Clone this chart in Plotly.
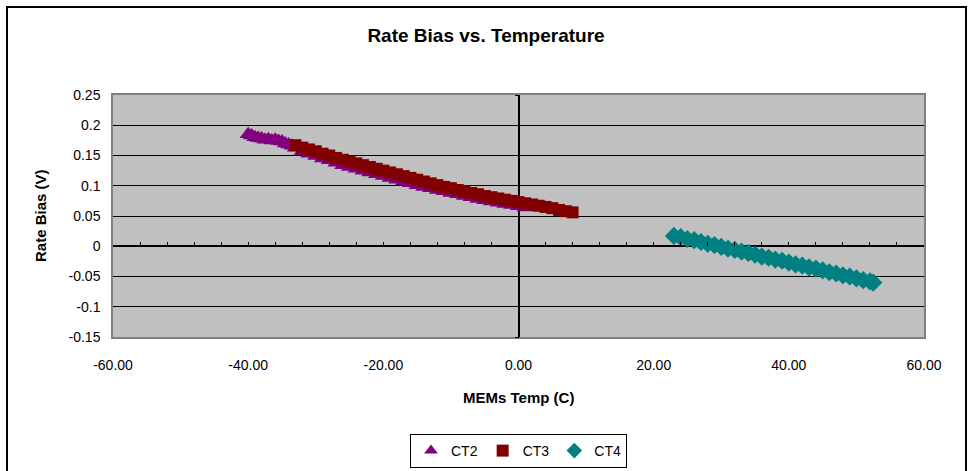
import plotly.graph_objects as go

# ---- data ----
ct2_temp = [-40, -39.5, -39, -38.5, -38, -37.5, -37, -36.5, -36, -35.5, -35, -34.5, -34, -33.5, -33, -32, -31,
            -30, -29, -28, -27, -26, -25, -24, -23, -22, -21, -20, -19, -18, -17, -16, -15, -14, -13, -12,
            -11, -10, -9, -8, -7, -6, -5, -4, -3, -2, -1, 0, 1]
ct2_bias = [0.185, 0.183, 0.180, 0.179, 0.178, 0.176, 0.177, 0.175, 0.176, 0.174, 0.173, 0.170, 0.168, 0.166,
            0.163, 0.157, 0.153, 0.149, 0.145, 0.142, 0.138, 0.134, 0.131, 0.128, 0.125, 0.122, 0.119,
            0.116, 0.113, 0.110, 0.107, 0.104, 0.101, 0.098, 0.096, 0.093, 0.091, 0.088, 0.086, 0.083,
            0.081, 0.078, 0.076, 0.074, 0.072, 0.070, 0.068, 0.066, 0.064]

ct3_temp = [-33, -32, -31, -30, -29, -28, -27, -26, -25, -24, -23, -22, -21, -20, -19, -18, -17, -16, -15,
            -14, -13, -12, -11, -10, -9, -8, -7, -6, -5, -4, -3, -2, -1, 0, 1, 2, 3, 4, 5, 6, 7, 8]
ct3_bias = [0.167, 0.163, 0.160, 0.157, 0.153, 0.150, 0.146, 0.143, 0.140, 0.137, 0.134, 0.131, 0.128,
            0.125, 0.122, 0.119, 0.116, 0.113, 0.110, 0.107, 0.104, 0.101, 0.098, 0.096, 0.093, 0.091,
            0.088, 0.086, 0.083, 0.081, 0.079, 0.077, 0.075, 0.073, 0.071, 0.069, 0.067, 0.065, 0.063,
            0.060, 0.058, 0.056]

ct4_temp = [23, 24, 25, 26, 27, 28, 29, 30, 31, 32, 33, 34, 35, 36, 37, 38, 39, 40, 41, 42, 43, 44, 45,
            46, 47, 48, 49, 50, 51, 52, 52.5]
ct4_bias = [0.017, 0.015, 0.012, 0.010, 0.007, 0.004, 0.002, -0.001, -0.004, -0.006, -0.009, -0.011,
            -0.014, -0.017, -0.019, -0.022, -0.024, -0.027, -0.030, -0.032, -0.035, -0.037, -0.040,
            -0.043, -0.045, -0.048, -0.050, -0.053, -0.056, -0.058, -0.060]

x_tickvals = [-60, -40, -20, 0, 20, 40, 60]
x_ticktext = ["-60.00", "-40.00", "-20.00", "0.00", "20.00", "40.00", "60.00"]
y_tickvals = [-0.15, -0.1, -0.05, 0, 0.05, 0.1, 0.15, 0.2, 0.25]
y_ticktext = ["-0.15", "-0.1", "-0.05", "0", "0.05", "0.1", "0.15", "0.2", "0.25"]

FONT = "Liberation Sans, Arial, sans-serif"

fig = go.Figure()
fig.add_trace(go.Scatter(x=ct2_temp, y=ct2_bias, mode="markers", name="CT2",
                         marker=dict(symbol="triangle-up", size=15, color="#800080")))
fig.add_trace(go.Scatter(x=ct3_temp, y=ct3_bias, mode="markers", name="CT3",
                         marker=dict(symbol="square", size=12, color="#800000")))
fig.add_trace(go.Scatter(x=ct4_temp, y=ct4_bias, mode="markers", name="CT4",
                         marker=dict(symbol="diamond", size=14, color="#008080")))
# helper trace so the zero-crossing tick axes are drawn
fig.add_trace(go.Scatter(x=[], y=[], xaxis="x2", yaxis="y2", showlegend=False, hoverinfo="skip"))

fig.update_layout(
    width=969, height=471,
    margin=dict(l=113, r=45, t=95, b=134, autoexpand=False),
    paper_bgcolor="white",
    plot_bgcolor="#C0C0C0",
    font=dict(family=FONT, size=14, color="black"),
    title=dict(text="<b>Rate Bias vs. Temperature</b>", x=486 / 969, xref="container", xanchor="center",
               y=1 - 35 / 471, yref="container", yanchor="middle",
               font=dict(family=FONT, size=19, color="black")),
    xaxis=dict(range=[-60, 60], tickvals=x_tickvals, ticktext=x_ticktext, showgrid=False,
               zeroline=True, zerolinecolor="black", zerolinewidth=1.5,
               showline=True, mirror=True, linecolor="#808080", linewidth=1.5,
               ticks="", ticklabelstandoff=14, tickfont=dict(size=14), automargin=False),
    yaxis=dict(range=[-0.15, 0.25], tickvals=y_tickvals, ticktext=y_ticktext,
               showgrid=True, gridcolor="#000000", gridwidth=1,
               zeroline=True, zerolinecolor="black", zerolinewidth=1.5,
               showline=True, mirror=True, linecolor="#808080", linewidth=1.5,
               ticks="", ticklabelstandoff=8, tickfont=dict(size=14), automargin=False),
    xaxis2=dict(overlaying="x", anchor="free", position=0.375, range=[-60, 60], side="bottom",
                ticks="inside", ticklen=4, tickcolor="black", tickwidth=1, tick0=0, dtick=4,
                showticklabels=False, showgrid=False, zeroline=False, showline=False, automargin=False),
    yaxis2=dict(overlaying="y", anchor="free", position=0.5, range=[-0.15, 0.25], side="left",
                ticks="outside", ticklen=4, tickcolor="black", tickwidth=1, tick0=0, dtick=0.05,
                showticklabels=False, showgrid=False, zeroline=False, showline=False, automargin=False),
    legend=dict(orientation="h", x=0.5, xanchor="center", y=(337 - 434) / 242, yanchor="top",
                bgcolor="white", bordercolor="black", borderwidth=1,
                font=dict(family=FONT, size=14), itemwidth=30, itemsizing="constant"),
    showlegend=True,
)

fig.add_annotation(text="<b>MEMs Temp (C)</b>", xref="paper", yref="paper",
                   x=0.5, y=(337 - 397) / 242, xanchor="center", yanchor="middle",
                   showarrow=False, font=dict(family=FONT, size=15, color="black"))
fig.add_annotation(text="<b>Rate Bias (V)</b>", xref="paper", yref="paper",
                   x=(40 - 113) / 811, y=0.5, xanchor="center", yanchor="middle", textangle=-90,
                   showarrow=False, font=dict(family=FONT, size=15, color="black"))

# chart-area frame (Excel style)
fig.add_shape(type="rect", xref="paper", yref="paper",
              x0=(7 - 113) / 811, x1=(966 - 113) / 811, y0=(337 - 490) / 242, y1=(337 - 7) / 242,
              line=dict(color="black", width=2), fillcolor="rgba(0,0,0,0)", layer="below")

fig.write_html("out.html")
